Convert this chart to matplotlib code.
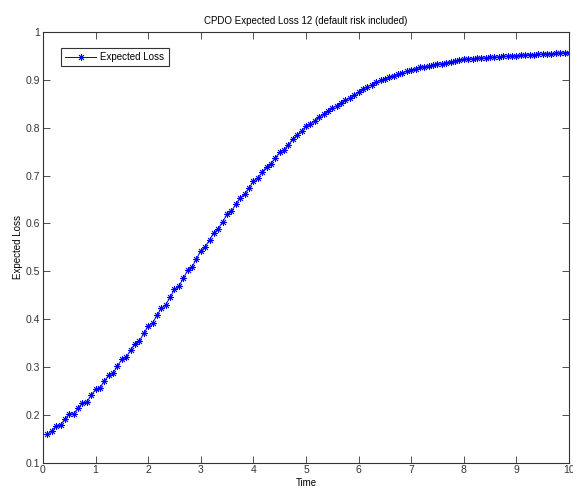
import numpy as np
import matplotlib.pyplot as plt

# monthly time grid, 10 years
time = np.arange(1, 121) / 12.0

# expected loss per month (default risk included)
loss_y1 = [0.159, 0.167, 0.177, 0.179, 0.191, 0.202, 0.202, 0.214, 0.225, 0.227, 0.241, 0.253]
loss_y2 = [0.257, 0.270, 0.283, 0.288, 0.302, 0.316, 0.321, 0.335, 0.349, 0.355, 0.370, 0.386]
loss_y3 = [0.392, 0.408, 0.423, 0.430, 0.446, 0.462, 0.469, 0.485, 0.502, 0.509, 0.526, 0.543]
loss_y4 = [0.551, 0.566, 0.581, 0.589, 0.604, 0.619, 0.626, 0.640, 0.654, 0.661, 0.674, 0.688]
loss_y5 = [0.695, 0.707, 0.719, 0.725, 0.737, 0.749, 0.754, 0.765, 0.776, 0.785, 0.794, 0.803]
loss_y6 = [0.808, 0.815, 0.823, 0.828, 0.835, 0.842, 0.846, 0.852, 0.858, 0.862, 0.868, 0.875]
loss_y7 = [0.880, 0.886, 0.890, 0.895, 0.899, 0.902, 0.906, 0.909, 0.912, 0.915, 0.918, 0.921]
loss_y8 = [0.923, 0.926, 0.928, 0.929, 0.931, 0.933, 0.934, 0.936, 0.938, 0.939, 0.941, 0.943]
loss_y9 = [0.944, 0.944, 0.945, 0.946, 0.946, 0.947, 0.948, 0.948, 0.949, 0.950, 0.950, 0.951]
loss_y10 = [0.952, 0.952, 0.953, 0.953, 0.954, 0.954, 0.955, 0.955, 0.956, 0.956, 0.957, 0.957]

expected_loss = (loss_y1 + loss_y2 + loss_y3 + loss_y4 + loss_y5 +
                 loss_y6 + loss_y7 + loss_y8 + loss_y9 + loss_y10)

xticks = list(range(0, 11))
yticks = [0.1, 0.2, 0.3, 0.4, 0.5, 0.6, 0.7, 0.8, 0.9, 1.0]
ytick_labels = ['0.1', '0.2', '0.3', '0.4', '0.5', '0.6', '0.7', '0.8', '0.9', '1']

plt.rcParams['font.family'] = ['Liberation Sans', 'DejaVu Sans']
plt.rcParams['font.size'] = 7

fig = plt.figure(figsize=(5.73, 4.86), dpi=100)
ax = fig.add_axes([0.075, 0.048, 0.918, 0.886])

ax.plot(time, expected_loss, color='#0000ff', linewidth=0.7,
        marker=(8, 2, 0), markersize=5, markeredgewidth=0.6,
        label='Expected Loss')

ax.set_xlim(0, 10)
ax.set_ylim(0.1, 1)
ax.set_xticks(xticks)
ax.set_yticks(yticks)
ax.set_yticklabels(ytick_labels)

# box with inward ticks on all sides
ax.tick_params(direction='in', top=True, right=True, length=5, width=0.6,
               colors='#333333', labelsize=7.5, pad=2)
for sp in ax.spines.values():
    sp.set_linewidth(0.8)
    sp.set_color('#333333')

ax.set_title('CPDO Expected Loss 12 (default risk included)', fontsize=7, pad=6)
ax.set_xlabel('Time', fontsize=7, labelpad=2)
ax.set_ylabel('Expected Loss', fontsize=7, labelpad=2)

leg = ax.legend(loc='upper left', bbox_to_anchor=(0.025, 0.975), fontsize=7,
                fancybox=False, framealpha=1, edgecolor='#333333',
                handlelength=3.2, borderpad=0.45, handletextpad=0.4)
leg.get_frame().set_linewidth(0.8)

fig.savefig('out.png', dpi=100)
